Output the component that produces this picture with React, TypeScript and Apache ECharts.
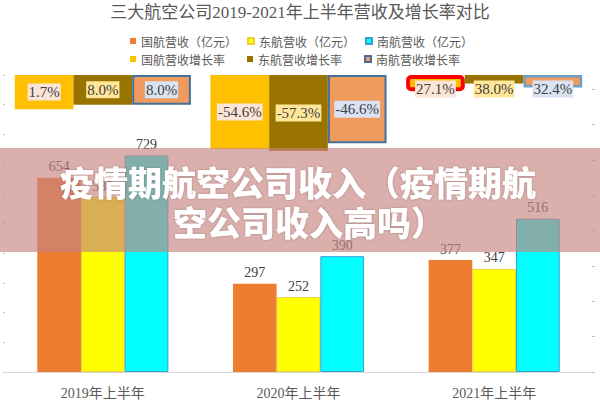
import React, { useEffect, useRef } from "react";
import * as echarts from "echarts";

const categories = ["2019年上半年", "2020年上半年", "2021年上半年"];
const gaRevenue = [654, 297, 377];
const dhRevenue = [589, 252, 347];
const nhRevenue = [729, 390, 516];
const gaGrowth = [1.7, -54.6, 27.1];
const dhGrowth = [8.0, -57.3, 38.0];
const nhGrowth = [8.0, -46.6, 32.4];
const growthTicks = [30, -20, -70, -120, -170, -220, -270, -320, -370];
const GROWTH_TOP = 50;
const GROWTH_BOTTOM = -370;
const revenueNames = ["国航营收（亿元）", "东航营收（亿元）", "南航营收（亿元）"];
const growthNames = ["国航营收增长率", "东航营收增长率", "南航营收增长率"];
const bannerLine1 = "疫情期航空公司收入（疫情期航";
const bannerLine2 = "空公司收入高吗）";
const titleText = "三大航空公司2019-2021年上半年营收及增长率对比";

const SERIF = "'Liberation Serif', 'Noto Sans CJK SC', serif";
const CJK = "'Noto Sans CJK SC', sans-serif";

export default function App() {
  const ref = useRef<HTMLDivElement>(null);
  useEffect(() => {
    if (!ref.current) return;
    const chart = echarts.init(ref.current, null, { renderer: "svg" });

    const toBar = (v: number) => GROWTH_TOP - v;
    const growthLabel = (arr: number[], bg: string) => ({
      show: true,
      position: "inside",
      formatter: (p: any) => arr[p.dataIndex].toFixed(1) + "%",
      fontSize: 15,
      fontFamily: SERIF,
      color: "#404040",
      backgroundColor: bg,
      padding: [1, 1],
      lineHeight: 15,
    });
    const growthLayout = (params: any) => {
      const r = params.labelRect;
      const cy = r.y + r.height / 2;
      return {
        x: r.x + r.width / 2,
        y: Math.max(cy, 89),
        align: "center",
        verticalAlign: "middle",
      };
    };
    const revLabel = {
      show: true,
      position: "top",
      distance: 4,
      fontSize: 14,
      fontFamily: SERIF,
      color: "#404040",
    };

    const option: any = {
      animation: false,
      backgroundColor: "#ffffff",
      title: {
        text: titleText,
        left: "center",
        top: 4,
        padding: 0,
        textStyle: {
          fontSize: 17,
          fontWeight: "normal",
          color: "#595959",
          fontFamily: SERIF,
        },
      },
      legend: [
        {
          data: revenueNames,
          left: 130,
          top: 35,
          padding: 0,
          icon: "rect",
          itemWidth: 6,
          itemHeight: 6,
          itemGap: 10,
          textStyle: { fontSize: 12, color: "#595959", fontFamily: CJK },
        },
        {
          data: growthNames,
          left: 130,
          top: 53,
          padding: 0,
          icon: "rect",
          itemWidth: 6,
          itemHeight: 6,
          itemGap: 22,
          textStyle: { fontSize: 12, color: "#595959", fontFamily: CJK },
        },
      ],
      grid: { left: 5, right: 8, top: 75, bottom: 28 },
      xAxis: [
        {
          type: "category",
          data: categories,
          axisLine: { lineStyle: { color: "#d9d9d9", width: 1 } },
          axisTick: { show: false },
          axisLabel: {
            fontSize: 14,
            color: "#595959",
            margin: 14,
            fontFamily: SERIF,
          },
        },
        {
          type: "category",
          data: categories,
          show: false,
        },
      ],
      yAxis: [
        {
          type: "value",
          min: 0,
          max: 1000,
          interval: 100,
          position: "left",
          axisLine: { show: false },
          axisTick: { show: true, length: 2, lineStyle: { color: "#bfbfbf" } },
          axisLabel: { show: false },
          splitLine: { show: false },
        },
        {
          type: "value",
          inverse: true,
          min: 0,
          max: GROWTH_TOP - GROWTH_BOTTOM,
          position: "right",
          axisLine: { show: false },
          axisTick: {
            show: true,
            length: 3,
            lineStyle: { color: "#bfbfbf" },
            customValues: growthTicks.map(toBar),
          },
          axisLabel: { show: false },
          splitLine: { show: false },
        },
      ],
      series: [
        {
          name: revenueNames[0],
          type: "bar",
          data: gaRevenue,
          barGap: "0%",
          barCategoryGap: "33%",
          itemStyle: { color: "#ed7d31" },
          label: revLabel,
        },
        {
          name: revenueNames[1],
          type: "bar",
          data: dhRevenue,
          barGap: "0%",
          barCategoryGap: "33%",
          itemStyle: { color: "#ffff00", borderColor: "#f2cf3a", borderWidth: 1 },
          label: revLabel,
        },
        {
          name: revenueNames[2],
          type: "bar",
          data: nhRevenue,
          barGap: "0%",
          barCategoryGap: "33%",
          itemStyle: { color: "#00ffff", borderColor: "#3a9fcf", borderWidth: 1 },
          label: revLabel,
        },
        {
          name: growthNames[0],
          type: "bar",
          xAxisIndex: 1,
          yAxisIndex: 1,
          barGap: "0%",
          barCategoryGap: "10%",
          data: gaGrowth.map((v, i) =>
            i === 2
              ? {
                  value: toBar(v),
                  itemStyle: {
                    color: "#ffc000",
                    borderColor: "#ff0000",
                    borderWidth: 4,
                    borderRadius: 3,
                  },
                }
              : toBar(v)
          ),
          itemStyle: { color: "#ffc000" },
          label: growthLabel(gaGrowth, "#fbe5d6"),
          labelLayout: growthLayout,
        },
        {
          name: growthNames[1],
          type: "bar",
          xAxisIndex: 1,
          yAxisIndex: 1,
          barGap: "0%",
          barCategoryGap: "10%",
          data: dhGrowth.map(toBar),
          itemStyle: { color: "#997300" },
          label: growthLabel(dhGrowth, "#ffe699"),
          labelLayout: growthLayout,
        },
        {
          name: growthNames[2],
          type: "bar",
          xAxisIndex: 1,
          yAxisIndex: 1,
          barGap: "0%",
          barCategoryGap: "10%",
          data: nhGrowth.map((v, i) =>
            i === 2
              ? {
                  value: toBar(v),
                  itemStyle: {
                    color: "#f19a5e",
                    borderColor: "#6d9ec9",
                    borderWidth: 2.5,
                  },
                }
              : toBar(v)
          ),
          itemStyle: { color: "#f19a5e", borderColor: "#41719c", borderWidth: 2 },
          label: growthLabel(nhGrowth, "#dae3f3"),
          labelLayout: growthLayout,
        },
      ],
      graphic: [
        {
          type: "rect",
          z: 100,
          shape: { x: 0, y: 148, width: 600, height: 104 },
          style: { fill: "rgba(198,133,128,0.655)" },
        },
        {
          type: "text",
          z: 101,
          x: 298,
          y: 181,
          style: {
            text: bannerLine1,
            fill: "#ffffff",
            fontSize: 34,
            fontWeight: 900,
            fontFamily: CJK,
            align: "center",
            verticalAlign: "middle",
            textShadowColor: "rgba(0,0,0,0.25)",
            textShadowBlur: 2,
          },
        },
        {
          type: "text",
          z: 101,
          x: 309,
          y: 221,
          style: {
            text: bannerLine2,
            fill: "#ffffff",
            fontSize: 34,
            fontWeight: 900,
            fontFamily: CJK,
            align: "center",
            verticalAlign: "middle",
            textShadowColor: "rgba(0,0,0,0.25)",
            textShadowBlur: 2,
          },
        },
      ],
    };
    chart.setOption(option);
    return () => chart.dispose();
  }, []);

  return (
    <div
      ref={ref}
      style={{ position: "fixed", left: 0, top: 0, width: 600, height: 400 }}
    />
  );
}
